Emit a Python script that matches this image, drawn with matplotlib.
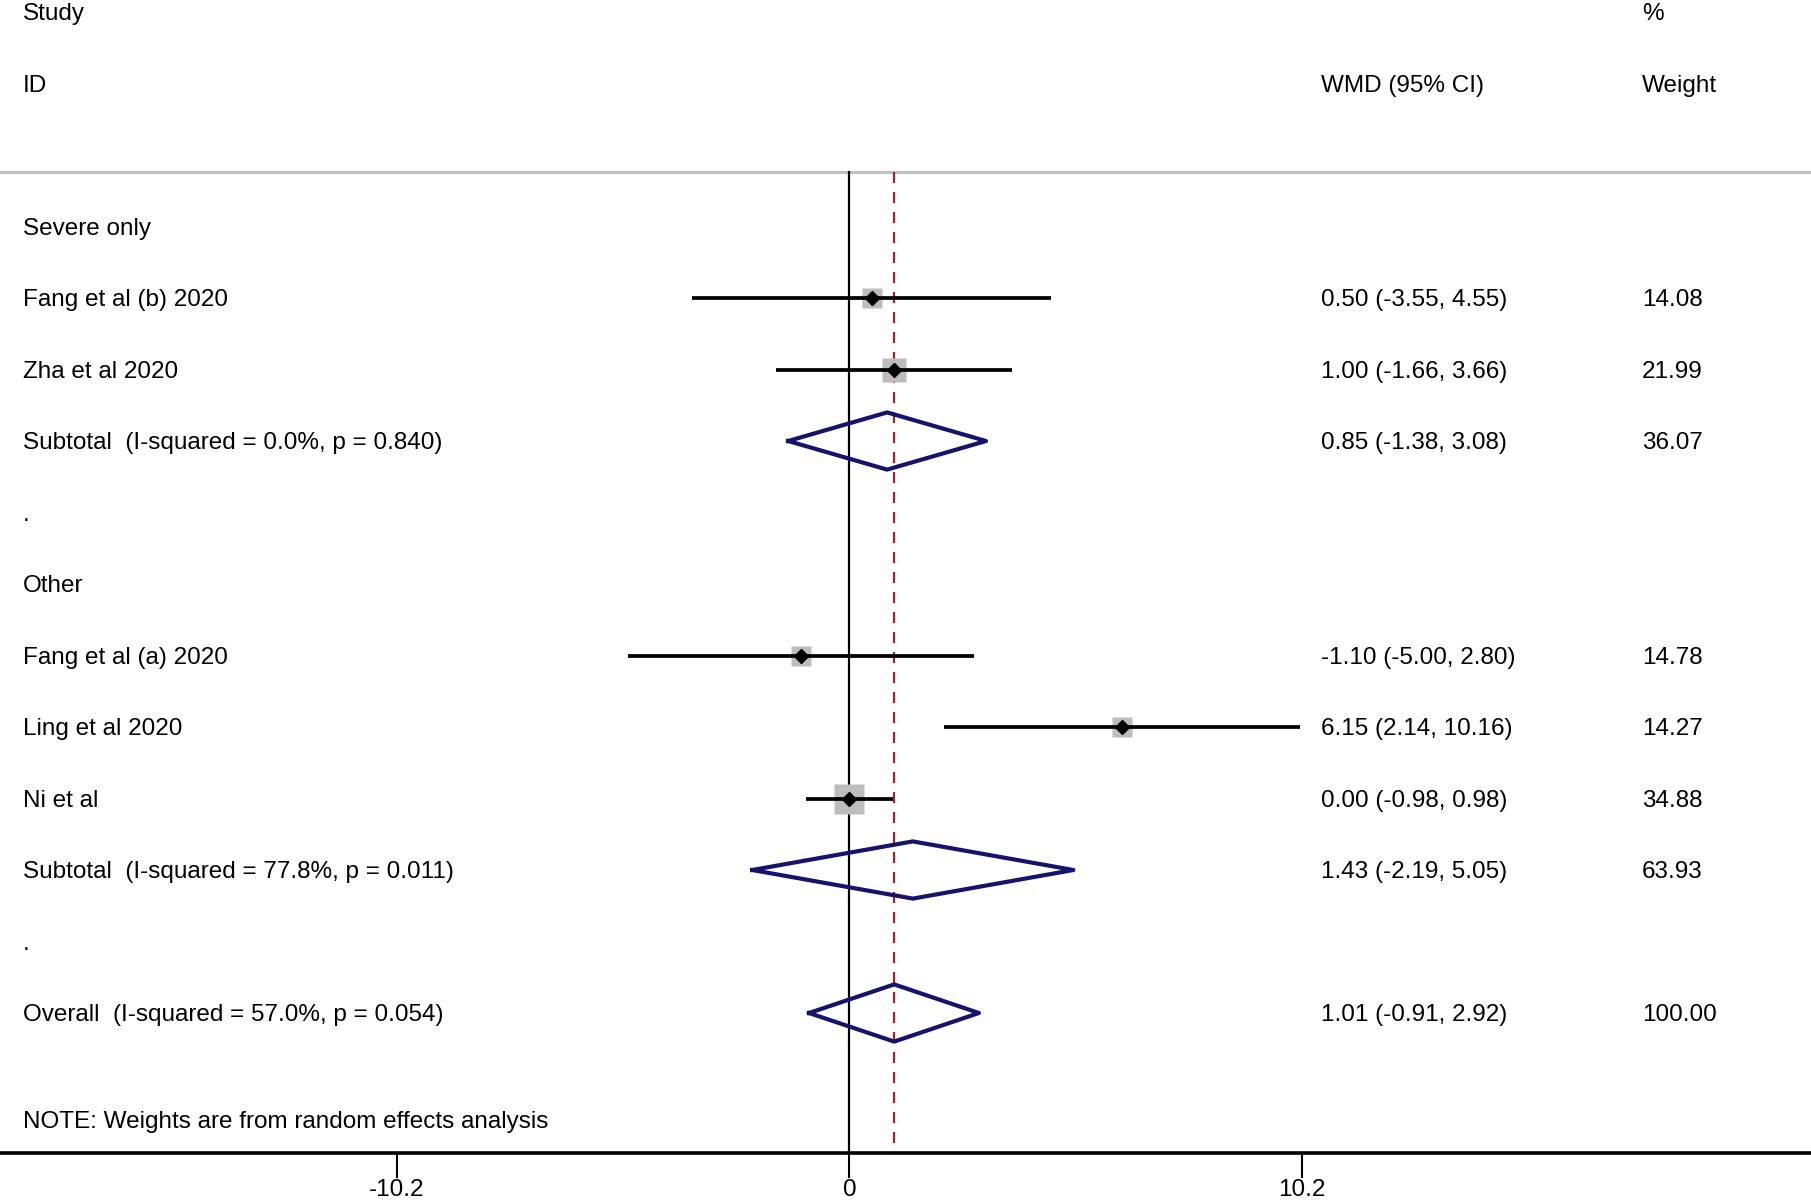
import matplotlib.pyplot as plt
import matplotlib.transforms as mtransforms

plt.rcParams['font.family'] = ['Liberation Sans', 'DejaVu Sans']

# study rows: (row index, label, estimate, lower, upper, weight)
study_rows = [1, 2, 6, 7, 8]
study_names = ['Fang et al (b) 2020', 'Zha et al 2020', 'Fang et al (a) 2020',
               'Ling et al 2020', 'Ni et al']
study_est = [0.50, 1.00, -1.10, 6.15, 0.00]
study_lo = [-3.55, -1.66, -5.00, 2.14, -0.98]
study_hi = [4.55, 3.66, 2.80, 10.16, 0.98]
study_wt = [14.08, 21.99, 14.78, 14.27, 34.88]

# pooled rows (two subtotals + overall)
pool_rows = [3, 9, 11]
pool_names = ['Subtotal', 'Subtotal', 'Overall']
pool_i2 = [0.0, 77.8, 57.0]
pool_p = [0.840, 0.011, 0.054]
pool_est = [0.85, 1.43, 1.01]
pool_lo = [-1.38, -2.19, -0.91]
pool_hi = [3.08, 5.05, 2.92]
pool_wt = [36.07, 63.93, 100.00]

group_rows = [0, 5]
group_names = ['Severe only', 'Other']
blank_rows = [4, 10]

xticks = [-10.2, 0, 10.2]
xtick_labels = ['-10.2', '0', '10.2']

FS = 17.5
navy = '#14146e'

fig = plt.figure(figsize=(18.11, 12.01), dpi=100)
ax = fig.add_axes([0, 48 / 1201, 1, 1153 / 1201])
ax.set_xlim(-19.15, 21.68)
ax.set_ylim(12.958, -3.168)

for s in ['top', 'left', 'right']:
    ax.spines[s].set_visible(False)
ax.spines['bottom'].set_linewidth(2.6)
ax.set_yticks([])
ax.set_xticks(xticks)
ax.set_xticklabels(xtick_labels, fontsize=FS)
ax.tick_params(axis='x', length=18, width=1.5, pad=1)

sep_y = -0.762
ax.axhline(sep_y, color='#c0c0c0', lw=2.2)
ax.plot([0, 0], [sep_y, 12.958], color='black', lw=1.6)
ax.plot([pool_est[-1], pool_est[-1]], [sep_y, 12.958], color='#a0232e',
        lw=1.6, ls=(0, (5, 4)))

# study CIs, weight boxes and point estimates
for r, e, lo, hi, w in zip(study_rows, study_est, study_lo, study_hi, study_wt):
    ax.plot([lo, hi], [r, r], color='black', lw=2.7, solid_capstyle='butt', zorder=3)
    ax.plot(e, r, marker='s', ms=3.7 * w ** 0.5, color='#bdbdbd', mec='none', zorder=2)
    ax.plot(e, r, marker='D', ms=7.5, color='black', zorder=4)

# pooled diamonds
for r, e, lo, hi in zip(pool_rows, pool_est, pool_lo, pool_hi):
    ax.plot([lo, e, hi, e, lo], [r, r - 0.4, r, r + 0.4, r], color=navy,
            lw=3, solid_joinstyle='round', zorder=5)

# text columns
tr = mtransforms.blended_transform_factory(ax.transAxes, ax.transData)
xl, xm, xr = 23 / 1811, 1321 / 1811, 1642 / 1811
dy = 0.03

def txt(x, y, s):
    ax.text(x, y + dy, s, transform=tr, fontsize=FS, ha='left', va='center')

txt(xl, -3, 'Study')
txt(xr, -3, '%')
txt(xl, -2, 'ID')
txt(xm, -2, 'WMD (95% CI)')
txt(xr, -2, 'Weight')

for r, n in zip(group_rows, group_names):
    txt(xl, r, n)
for r in blank_rows:
    txt(xl, r, '.')

for r, n, e, lo, hi, w in zip(study_rows, study_names, study_est, study_lo, study_hi, study_wt):
    txt(xl, r, n)
    txt(xm, r, f'{e:.2f} ({lo:.2f}, {hi:.2f})')
    txt(xr, r, f'{w:.2f}')

for r, n, i2, p, e, lo, hi, w in zip(pool_rows, pool_names, pool_i2, pool_p,
                                     pool_est, pool_lo, pool_hi, pool_wt):
    txt(xl, r, f'{n}  (I-squared = {i2:.1f}%, p = {p:.3f})')
    txt(xm, r, f'{e:.2f} ({lo:.2f}, {hi:.2f})')
    txt(xr, r, f'{w:.2f}')

txt(xl, 12.5, 'NOTE: Weights are from random effects analysis')

fig.savefig('out.png', dpi=100)
